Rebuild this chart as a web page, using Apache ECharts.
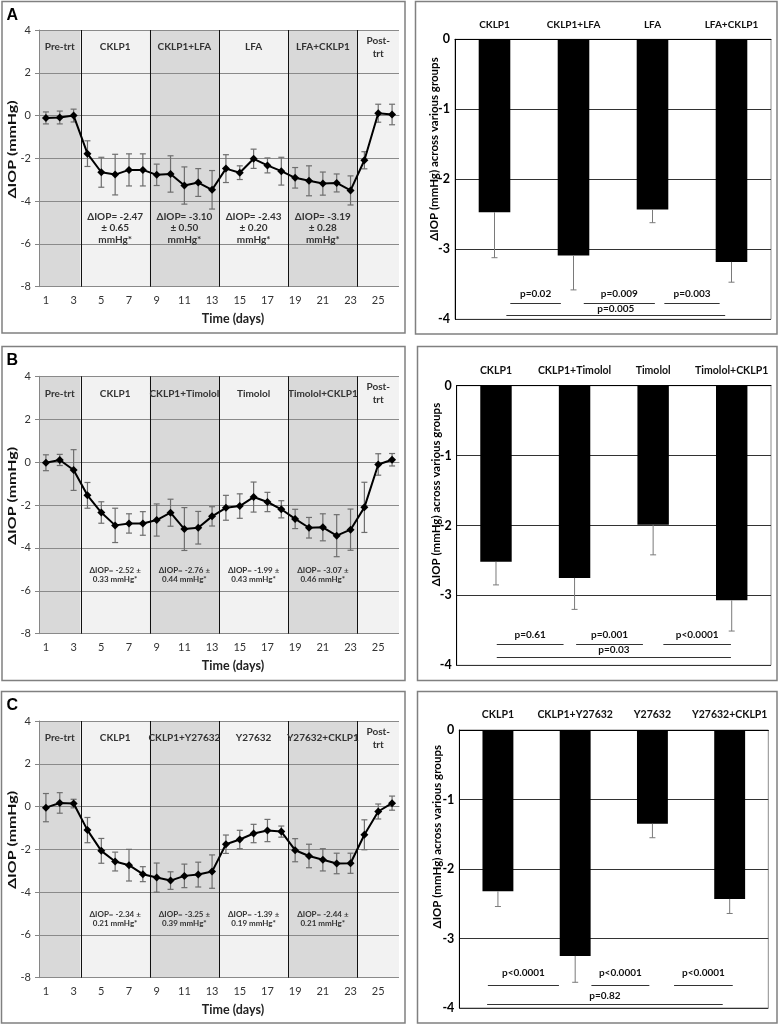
<!DOCTYPE html>
<html><head><meta charset="utf-8">
<script src="https://cdn.jsdelivr.net/npm/echarts@6/dist/echarts.min.js"></script>
<style>html,body{margin:0;padding:0;background:#fff}#c{width:779px;height:1026px}</style>
</head><body><div id="c"></div>
<script>
const FONT = 'Lato, "Open Sans", sans-serif';

// ---------- data ----------
const dayLabels = ['1','2','3','4','5','6','7','8','9','10','11','12','13','14','15','16','17','18','19','20','21','22','23','24','25','26'];
const regionEdges = [0.5, 3.5, 8.5, 13.5, 18.5, 23.5, 26.5];
const regionShade = ['#d9d9d9','#f2f2f2','#d9d9d9','#f2f2f2','#d9d9d9','#f2f2f2'];

const regionNamesA = ['Pre-trt','CKLP1','CKLP1+LFA','LFA','LFA+CKLP1','Post-\ntrt'];
const regionNamesB = ['Pre-trt','CKLP1','CKLP1+Timolol','Timolol','Timolol+CKLP1','Post-\ntrt'];
const regionNamesC = ['Pre-trt','CKLP1','CKLP1+Y27632','Y27632','Y27632+CKLP1','Post-\ntrt'];

const iopA = [-0.11,-0.09,0.0,-1.78,-2.65,-2.76,-2.54,-2.54,-2.77,-2.73,-3.27,-3.13,-3.47,-2.48,-2.67,-2.02,-2.33,-2.6,-2.91,-3.05,-3.18,-3.15,-3.5,-2.09,0.11,0.05];
const errA = [0.28,0.3,0.3,0.6,0.7,0.95,0.75,0.75,0.5,0.85,0.87,0.65,0.9,0.65,0.32,0.45,0.35,0.65,0.48,0.7,0.54,0.42,0.68,0.4,0.42,0.48];
const iopB = [-0.03,0.1,-0.37,-1.55,-2.35,-2.95,-2.86,-2.86,-2.7,-2.36,-3.12,-3.06,-2.53,-2.13,-2.05,-1.63,-1.86,-2.2,-2.65,-3.06,-3.04,-3.43,-3.15,-2.11,-0.11,0.11];
const errB = [0.37,0.26,0.95,0.6,0.5,0.8,0.45,0.55,0.75,0.63,1.0,0.76,0.45,0.58,0.57,0.7,0.45,0.4,0.45,0.48,0.63,0.98,0.96,1.17,0.5,0.29];
const iopC = [-0.05,0.17,0.14,-1.1,-2.07,-2.57,-2.74,-3.16,-3.32,-3.46,-3.24,-3.18,-3.04,-1.76,-1.54,-1.26,-1.12,-1.17,-2.04,-2.31,-2.49,-2.66,-2.65,-1.32,-0.23,0.16];
const errC = [0.66,0.48,0.2,0.59,0.58,0.44,0.74,0.35,0.68,0.41,0.55,0.58,0.78,0.43,0.43,0.43,0.52,0.26,0.54,0.55,0.52,0.48,0.47,0.7,0.35,0.33];

const annotA = ['ΔIOP= -2.47\n± 0.65\nmmHg*','ΔIOP= -3.10\n± 0.50\nmmHg*','ΔIOP= -2.43\n± 0.20\nmmHg*','ΔIOP= -3.19\n± 0.28\nmmHg*'];
const annotB = ['ΔIOP= -2.52 ±\n0.33 mmHg*','ΔIOP= -2.76 ±\n0.44 mmHg*','ΔIOP= -1.99 ±\n0.43 mmHg*','ΔIOP= -3.07 ±\n0.46 mmHg*'];
const annotC = ['ΔIOP= -2.34 ±\n0.21 mmHg*','ΔIOP= -3.25 ±\n0.39 mmHg*','ΔIOP= -1.39 ±\n0.19 mmHg*','ΔIOP= -2.44 ±\n0.21 mmHg*'];

const barCatsA = ['CKLP1','CKLP1+LFA','LFA','LFA+CKLP1'];
const barMeanA = [-2.47,-3.09,-2.43,-3.18];
const barErrA  = [0.65,0.49,0.19,0.29];
const barCatsB = ['CKLP1','CKLP1+Timolol','Timolol','Timolol+CKLP1'];
const barMeanB = [-2.52,-2.75,-1.99,-3.07];
const barErrB  = [0.33,0.45,0.43,0.44];
const barCatsC = ['CKLP1','CKLP1+Y27632','Y27632','Y27632+CKLP1'];
const barMeanC = [-2.32,-3.25,-1.35,-2.43];
const barErrC  = [0.22,0.38,0.2,0.21];

const pTextA = ['p=0.02','p=0.009','p=0.003','p=0.005'];
const pFromA = [0.70,1.63,2.65,0.65];
const pToA   = [1.34,2.53,3.35,3.42];
const pLineA = [-3.76,-3.76,-3.76,-3.94];
const pLblA  = [-3.64,-3.64,-3.64,-3.85];
const pTextB = ['p=0.61','p=0.001','p<0.0001','p=0.03'];
const pFromB = [0.51,1.52,2.63,0.51];
const pToB   = [1.36,2.37,3.49,3.49];
const pLineB = [-3.70,-3.70,-3.70,-3.88];
const pLblB  = [-3.56,-3.56,-3.56,-3.78];
const pTextC = ['p<0.0001','p<0.0001','p<0.0001','p=0.82'];
const pFromC = [0.37,1.71,2.78,0.36];
const pToC   = [1.29,2.46,3.54,3.41];
const pLineC = [-3.67,-3.67,-3.67,-3.94];
const pLblC  = [-3.50,-3.50,-3.50,-3.83];

// ---------- builders ----------
const grids = [], xAxes = [], yAxes = [], series = [];

function addLine(g, iop, err, names, annots, annotFont, annotLH) {
  const gi = grids.length; grids.push(g);
  const xc = xAxes.length;
  xAxes.push({type:'category', gridIndex:gi, data:dayLabels, boundaryGap:true, z:2,
    axisLine:{lineStyle:{color:'#868686'}},
    axisTick:{interval:1, length:5, lineStyle:{color:'#868686'}},
    axisLabel:{interval:1, color:'#333', fontSize:11, fontFamily:FONT, margin:8},
    splitLine:{show:false},
    name:'Time (days)', nameLocation:'middle', nameGap:26,
    nameTextStyle:{fontFamily:FONT, fontWeight:'bold', fontSize:12.5, color:'#222', padding:[0,0,0,28]}});
  const xv = xAxes.length;
  xAxes.push({type:'value', gridIndex:gi, min:0.5, max:26.5, show:false});
  const yi = yAxes.length;
  yAxes.push({type:'value', gridIndex:gi, min:-8, max:4, interval:2, z:2,
    axisLine:{show:true, lineStyle:{color:'#868686'}},
    axisTick:{show:true, length:4, lineStyle:{color:'#868686'}},
    axisLabel:{color:'#333', fontSize:11, fontFamily:FONT, margin:8},
    splitLine:{lineStyle:{color:'#8a8a8a', width:1}}});
  // shaded regions
  series.push({type:'custom', xAxisIndex:xv, yAxisIndex:yi, z:1, silent:true, clip:false,
    data: names.map((n,i)=>[regionEdges[i], regionEdges[i+1], i]),
    renderItem(p, api){
      const a = api.coord([api.value(0), 4]), b = api.coord([api.value(1), -8]);
      return {type:'rect', shape:{x:a[0], y:a[1], width:b[0]-a[0], height:b[1]-a[1]},
        style:{fill: regionShade[api.value(2)]}};
    }});
  // separators
  series.push({type:'custom', xAxisIndex:xv, yAxisIndex:yi, z:3, silent:true, clip:false,
    data: regionEdges.slice(1, regionEdges.length-1).map(v=>[v, 0]),
    renderItem(p, api){
      const a = api.coord([api.value(0), 4]), b = api.coord([api.value(0), -8]);
      return {type:'line', shape:{x1:Math.round(a[0])+0.5, y1:a[1], x2:Math.round(a[0])+0.5, y2:b[1]}, style:{stroke:'#111', lineWidth:1}};
    }});
  // region labels
  series.push({type:'custom', xAxisIndex:xv, yAxisIndex:yi, z:5, silent:true, clip:false,
    data: names.map((n,i)=>[(regionEdges[i]+regionEdges[i+1])/2, 3.2, i]),
    renderItem(p, api){
      const c = api.coord([api.value(0), api.value(1)]);
      return {type:'text', x:c[0], y:c[1], style:{text:names[api.value(2)], fill:'#333',
        font:'bold 10px ' + FONT, align:'center', verticalAlign:'middle', lineHeight:13}};
    }});
  // annotations
  series.push({type:'custom', xAxisIndex:xv, yAxisIndex:yi, z:5, silent:true, clip:false,
    data: annots.map((t,i)=>[(regionEdges[i+1]+regionEdges[i+2])/2, -5.25, i]),
    renderItem(p, api){
      const c = api.coord([api.value(0), api.value(1)]);
      return {type:'text', x:c[0], y:c[1], style:{text:annots[api.value(2)], fill:'#333',
        font:annotFont, align:'center', verticalAlign:'middle', lineHeight:annotLH}};
    }});
  // error bars
  series.push({type:'custom', xAxisIndex:xv, yAxisIndex:yi, z:4, silent:true, clip:false,
    data: iop.map((v,i)=>[Number(dayLabels[i]), v, err[i]]),
    renderItem(p, api){
      const x = api.value(0), v = api.value(1), e = api.value(2);
      const t = api.coord([x, v+e]), b = api.coord([x, v-e]);
      const st = {stroke:'#6e6e6e', lineWidth:1.2};
      return {type:'group', children:[
        {type:'line', shape:{x1:t[0], y1:t[1], x2:b[0], y2:b[1]}, style:st},
        {type:'line', shape:{x1:t[0]-3, y1:t[1], x2:t[0]+3, y2:t[1]}, style:st},
        {type:'line', shape:{x1:b[0]-3, y1:b[1], x2:b[0]+3, y2:b[1]}, style:st}]};
    }});
  // mean line
  series.push({type:'line', xAxisIndex:xv, yAxisIndex:yi, z:6, silent:true,
    data: iop.map((v,i)=>[Number(dayLabels[i]), v]),
    symbol:'diamond', symbolSize:8, showSymbol:true,
    itemStyle:{color:'#000'}, lineStyle:{color:'#000', width:2}});
}

function addBar(g, cats, mean, err, pText, pFrom, pTo, pLine, pLbl, catSize) {
  const gi = grids.length; grids.push(g);
  const xc = xAxes.length;
  xAxes.push({type:'category', gridIndex:gi, data:cats, position:'top', z:2,
    axisLine:{lineStyle:{color:'#000', width:1}},
    axisTick:{inside:true, length:4, interval:0, lineStyle:{color:'#777'}},
    axisLabel:{interval:0, hideOverlap:false, color:'#111', fontSize:catSize, fontWeight:'bold', fontFamily:FONT, margin:10}});
  const xv = xAxes.length;
  xAxes.push({type:'value', gridIndex:gi, min:0, max:4, show:false});
  const yi = yAxes.length;
  yAxes.push({type:'value', gridIndex:gi, min:-4, max:0, interval:1, z:2,
    axisLine:{show:true, lineStyle:{color:'#000'}},
    axisTick:{show:false},
    axisLabel:{color:'#000', fontSize:12.5, fontWeight:'bold', fontFamily:FONT, margin:5},
    splitLine:{lineStyle:{color:'#333', width:1}}});
  series.push({type:'bar', xAxisIndex:xc, yAxisIndex:yi, data:mean, barWidth:'40%', z:3,
    itemStyle:{color:'#000'}, silent:true});
  series.push({type:'custom', xAxisIndex:xc, yAxisIndex:yi, z:4, silent:true, clip:false,
    data: mean.map((m,i)=>[i, m, err[i]]),
    renderItem(p, api){
      const t = api.coord([api.value(0), api.value(1)]), b = api.coord([api.value(0), api.value(1)-api.value(2)]);
      const st = {stroke:'#7a7a7a', lineWidth:1};
      return {type:'group', children:[
        {type:'line', shape:{x1:t[0], y1:t[1], x2:b[0], y2:b[1]}, style:st},
        {type:'line', shape:{x1:b[0]-3, y1:b[1], x2:b[0]+3, y2:b[1]}, style:st}]};
    }});
  series.push({type:'custom', xAxisIndex:xv, yAxisIndex:yi, z:5, silent:true, clip:false,
    data: pText.map((t,i)=>[pFrom[i], pTo[i], pLine[i], pLbl[i], i]),
    renderItem(p, api){
      const a = api.coord([api.value(0), api.value(2)]), b = api.coord([api.value(1), api.value(2)]);
      const c = api.coord([(api.value(0)+api.value(1))/2, api.value(3)]);
      return {type:'group', children:[
        {type:'line', shape:{x1:a[0], y1:Math.round(a[1])+0.5, x2:b[0], y2:Math.round(a[1])+0.5}, style:{stroke:'#333', lineWidth:1}},
        {type:'text', x:c[0], y:c[1], style:{text:pText[api.value(4)], fill:'#111', font:'bold 10px ' + FONT, align:'center', verticalAlign:'middle'}}]};
    }});
}

const gridBase = {show:true, borderWidth:0, backgroundColor:'transparent'};
const barGrid = {show:true, borderWidth:1, borderColor:'#8c8c8c', backgroundColor:'transparent'};

addLine(Object.assign({left:39, top:30, width:360, height:256.7}, gridBase), iopA, errA, regionNamesA, annotA, 'bold 10px ' + FONT, 11.5);
addBar(Object.assign({left:455, top:39.3, width:316, height:280}, barGrid), barCatsA, barMeanA, barErrA, pTextA, pFromA, pToA, pLineA, pLblA, 10);
addLine(Object.assign({left:39, top:376.3, width:360, height:257.4}, gridBase), iopB, errB, regionNamesB, annotB, 'bold 8px ' + FONT, 9.5);
addBar(Object.assign({left:456.7, top:385.7, width:314.3, height:279.6}, barGrid), barCatsB, barMeanB, barErrB, pTextB, pFromB, pToB, pLineB, pLblB, 10.5);
addLine(Object.assign({left:39, top:721, width:360, height:256.7}, gridBase), iopC, errC, regionNamesC, annotC, 'bold 8px ' + FONT, 9.5);
addBar(Object.assign({left:459.3, top:730, width:309, height:278}, barGrid), barCatsC, barMeanC, barErrC, pTextC, pFromC, pToC, pLineC, pLblC, 10.5);

// ---------- frames, letters, axis titles ----------
const boxStyle = {fill:'none', stroke:'#808080', lineWidth:1.5};
const graphic = [
  {type:'rect', shape:{x:2, y:1.5, width:403, height:331.5}, style:boxStyle, z:10},
  {type:'rect', shape:{x:415.5, y:1.5, width:361.5, height:332.5}, style:boxStyle, z:10},
  {type:'rect', shape:{x:2, y:346.5, width:403, height:334}, style:boxStyle, z:10},
  {type:'rect', shape:{x:417.5, y:346.5, width:359.5, height:334}, style:boxStyle, z:10},
  {type:'rect', shape:{x:1.5, y:691.5, width:403.5, height:331.5}, style:boxStyle, z:10},
  {type:'rect', shape:{x:417.5, y:691.5, width:359.5, height:331.5}, style:boxStyle, z:10},
];
[['A',15.5],['B',360.5],['C',705.5]].forEach(([t,y])=>{
  graphic.push({type:'text', x:6.5, y:y, z:10, style:{text:t, font:'bold 16px "Liberation Sans", Arial, sans-serif', fill:'#000', align:'left', verticalAlign:'middle'}});
});
[149.5, 496, 840].forEach(y=>{
  graphic.push({type:'text', x:12.5, y:y, rotation:Math.PI/2, scaleX:1.45, z:10,
    style:{text:'ΔIOP (mmHg)', font:'bold 11px ' + FONT, fill:'#111', align:'center', verticalAlign:'middle'}});
});
[[434,149],[436,494.5],[437,836.7]].forEach(([x,y])=>{
  graphic.push({type:'text', x:x, y:y, rotation:Math.PI/2, z:10,
    style:{text:'ΔIOP (mmHg) across various groups', font:'bold 11.5px ' + FONT, fill:'#000', align:'center', verticalAlign:'middle'}});
});

const chart = echarts.init(document.getElementById('c'), null, {renderer:'canvas'});
chart.setOption({
  animation:false,
  backgroundColor:'#fff',
  textStyle:{fontFamily:FONT},
  grid:grids, xAxis:xAxes, yAxis:yAxes, series:series, graphic:graphic
});
</script></body></html>
